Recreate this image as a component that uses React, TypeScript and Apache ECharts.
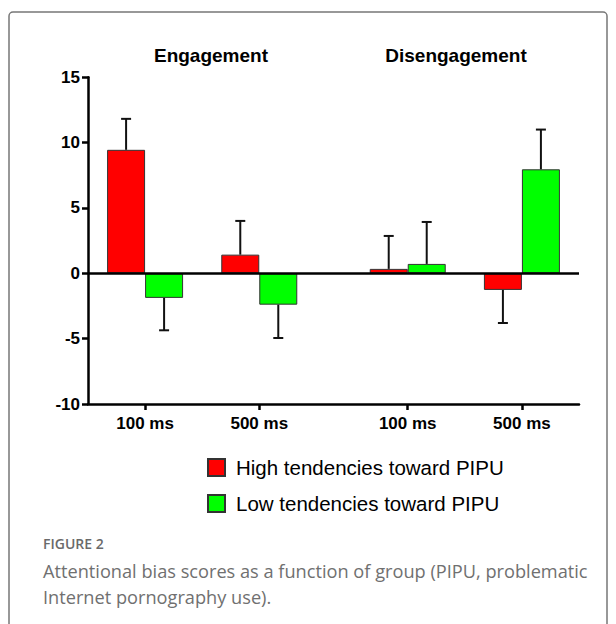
import React, { useEffect, useRef } from "react";
import * as echarts from "echarts";

// ---- data ----
const categories = ["100 ms", "500 ms", "100 ms", "500 ms"];
const categoryPositions = [0.5, 1.5, 2.8, 3.8];
const groupTitles = ["Engagement", "Disengagement"];
const seriesNames = ["High tendencies toward PIPU", "Low tendencies toward PIPU"];
const highValues = [9.45, 1.43, 0.34, -1.27];
const highErrors = [2.37, 2.58, 2.52, 2.53];
const lowValues = [-1.88, -2.4, 0.72, 7.96];
const lowErrors = [2.48, 2.55, 3.21, 3.04];
const yTicks = { min: -10, max: 15, interval: 5 };
const captionLabel = "FIGURE 2";
const captionLines = [
  "Attentional bias scores as a function of group (PIPU, problematic",
  "Internet pornography use).",
];

const FONT = "'Liberation Sans', Arial, sans-serif";
const BAR_W = 38;

function labelFor(v: number) {
  let best = 0;
  for (let i = 0; i < categoryPositions.length; i++) {
    if (Math.abs(categoryPositions[i] - v) < Math.abs(categoryPositions[best] - v)) best = i;
  }
  return Math.abs(categoryPositions[best] - v) < 0.01 ? categories[best] : "";
}

function errorSeries(values: number[], errors: number[], dx: number) {
  return {
    type: "custom",
    silent: true,
    z: 5,
    data: values.map((v, i) => [categoryPositions[i], v, v + (v >= 0 ? errors[i] : -errors[i])]),
    renderItem: (params: any, api: any) => {
      const x = api.value(0);
      const p0 = api.coord([x, api.value(1)]);
      const p1 = api.coord([x, api.value(2)]);
      const cx = p0[0] + dx;
      const style = { stroke: "#111", lineWidth: 2 };
      return {
        type: "group",
        children: [
          { type: "line", shape: { x1: cx, y1: p0[1], x2: cx, y2: p1[1] }, style },
          { type: "line", shape: { x1: cx - 5, y1: p1[1], x2: cx + 5, y2: p1[1] }, style },
        ],
      };
    },
  };
}

export default function App() {
  const ref = useRef<HTMLDivElement>(null);
  useEffect(() => {
    if (!ref.current) return;
    const chart = echarts.init(ref.current, null, { renderer: "svg" });
    const titleX = [211, 456];
    chart.setOption({
      animation: false,
      backgroundColor: "#fff",
      grid: { left: 88, right: 37, top: 77.3, bottom: 220, containLabel: false },
      legend: {
        orient: "vertical",
        left: 202,
        top: 452,
        itemWidth: 17,
        itemHeight: 17,
        itemGap: 15,
        icon: "rect",
        data: seriesNames,
        textStyle: { fontFamily: FONT, fontSize: 20.5, color: "#000", padding: [0, 0, 0, 6] },
      },
      xAxis: {
        type: "value",
        min: 0,
        max: 4.3,
        splitLine: { show: false },
        axisLine: { onZero: false, lineStyle: { color: "#000", width: 2.5 } },
        axisTick: { customValues: categoryPositions, length: 6, lineStyle: { color: "#000", width: 2.5 } },
        axisLabel: {
          customValues: categoryPositions,
          formatter: (v: number) => labelFor(v),
          fontFamily: FONT,
          fontWeight: "bold",
          fontSize: 17,
          color: "#000",
          margin: 11,
        },
      },
      yAxis: {
        type: "value",
        min: yTicks.min,
        max: yTicks.max,
        interval: yTicks.interval,
        splitLine: { show: false },
        axisLine: { show: true, lineStyle: { color: "#000", width: 2.5 } },
        axisTick: { show: true, length: 6, lineStyle: { color: "#000", width: 2.5 } },
        axisLabel: { fontFamily: FONT, fontWeight: "bold", fontSize: 17, color: "#000", margin: 8 },
      },
      series: [
        {
          name: seriesNames[0],
          type: "bar",
          barWidth: BAR_W,
          barGap: "0%",
          data: highValues.map((v, i) => [categoryPositions[i], v]),
          itemStyle: { color: "#ff0000", borderColor: "#333", borderWidth: 1 },
          markLine: {
            silent: true,
            symbol: "none",
            label: { show: false },
            lineStyle: { color: "#000", width: 2.5, type: "solid" },
            data: [{ yAxis: 0 }],
          },
        },
        {
          name: seriesNames[1],
          type: "bar",
          barWidth: BAR_W,
          barGap: "0%",
          data: lowValues.map((v, i) => [categoryPositions[i], v]),
          itemStyle: { color: "#00ff00", borderColor: "#333", borderWidth: 1 },
        },
        errorSeries(highValues, highErrors, -BAR_W / 2),
        errorSeries(lowValues, lowErrors, BAR_W / 2),
      ],
      graphic: [
        {
          type: "rect",
          shape: { x: 9, y: 12, width: 598, height: 660, r: 4 },
          style: { fill: "none", stroke: "#777", lineWidth: 1.5 },
          silent: true,
        },
        ...groupTitles.map((t, i) => ({
          type: "text",
          x: titleX[i],
          y: 55,
          style: {
            text: t,
            fontFamily: FONT,
            fontWeight: "bold",
            fontSize: 19,
            fill: "#000",
            align: "center",
            verticalAlign: "middle",
          },
        })),
        {
          type: "text",
          x: 43,
          y: 543,
          style: {
            text: captionLabel,
            fontFamily: "'Open Sans', sans-serif",
            fontWeight: 600,
            fontSize: 14,
            fill: "#6a6a6a",
            verticalAlign: "middle",
          },
        },
        ...captionLines.map((t, i) => ({
          type: "text",
          x: 43,
          y: 571 + i * 26,
          style: {
            text: t,
            fontFamily: "'Open Sans', sans-serif",
            fontSize: 18.2,
            fill: "#707070",
            verticalAlign: "middle",
          },
        })),
      ],
    });
    return () => chart.dispose();
  }, []);
  return (
    <div style={{ position: "absolute", left: 0, top: 0, width: 616, height: 624 }}>
      <div ref={ref} style={{ width: 616, height: 624 }} />
    </div>
  );
}
